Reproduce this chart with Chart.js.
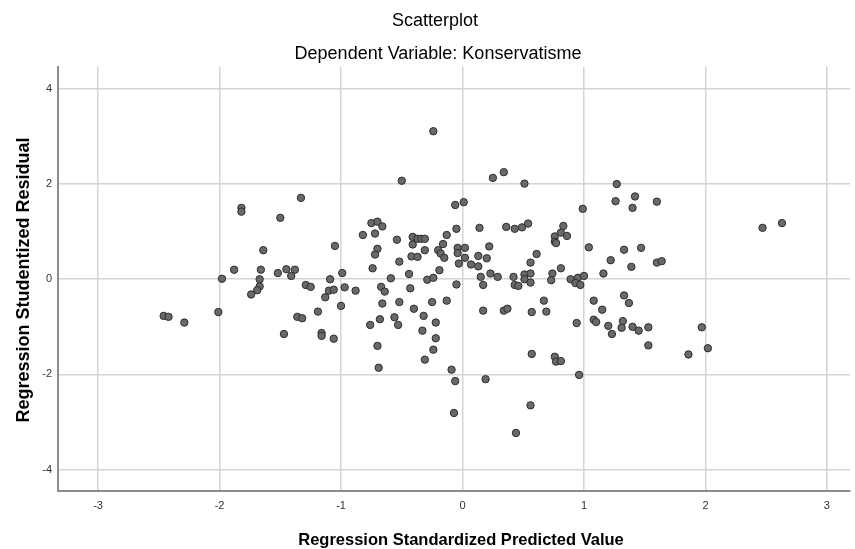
<!DOCTYPE html>
<html>
<head>
<meta charset="utf-8">
<script src="https://cdn.jsdelivr.net/npm/chart.js@4.4.0/dist/chart.umd.min.js"></script>
<style>
  html, body { margin: 0; padding: 0; background: #fff; }
  #wrap { width: 855px; height: 549px; position: relative; }
</style>
</head>
<body>
<div id="wrap"><canvas id="myChart"></canvas></div>
<script>
// Regression Standardized Predicted Value
const predicted = [
  -1.33, -1.82, -1.82, -1.50, -1.64, -1.88, -1.66, -1.52, -1.45, -1.38,
  -1.41, -1.98, -1.67, -1.67, -1.69, -1.74, -1.29, -1.25, -1.13, -1.10,
  -1.09, -2.46, -2.42, -2.29, -2.01, -1.19, -1.36, -1.32, -1.47, -1.16,
  -1.16, -1.06, -0.24, -0.50, -0.06, 0.01, -0.75, -0.70, -0.66, -0.82,
  -0.72, -1.05, -0.54, -0.41, -0.41, -0.37, -0.34, -0.31, -0.13, -0.05,
  0.14, -0.16, -0.20, -0.18, -0.15, -0.31, -0.70, -0.72, -0.04, 0.02,
  -0.04, 0.02, 0.13, -0.42, -0.37, -0.52, -0.03, 0.07, 0.13, -0.74,
  -0.99, -1.06, -0.97, -0.88, -1.00, -0.59, -0.44, -0.29, -0.24, -0.19,
  -0.05, -0.67, -0.64, -0.43, -0.66, -0.52, -0.40, -0.25, -0.13, -0.76,
  -0.68, -0.56, -0.53, -0.32, -0.22, -0.33, -0.22, -0.70, -0.24, -0.31,
  -0.69, -0.09, -0.06, -0.07, 0.25, 0.34, 0.51, 0.99, 1.27, 1.26,
  1.42, 1.40, 0.36, 0.43, 0.49, 0.54, 0.76, 0.81, 0.83, 0.86,
  0.76, 0.77, 1.04, 1.33, 1.47, 1.22, 1.39, 0.20, 0.22, 0.15,
  0.17, 0.23, 0.29, 0.42, 0.43, 0.46, 0.51, 0.56, 0.51, 0.56,
  0.56, 0.61, 0.81, 0.74, 0.73, 0.89, 0.95, 0.93, 0.97, 1.00,
  1.16, 1.33, 1.08, 0.67, 0.17, 0.34, 0.37, 0.57, 0.69, 0.94,
  1.15, 1.37, 1.08, 1.10, 1.20, 1.23, 1.32, 1.31, 1.40, 1.45,
  0.57, 0.76, 0.77, 0.81, 0.96, 0.19, 0.56, 0.44, 1.60, 1.60,
  1.64, 2.47, 2.63, 1.53, 1.53, 1.97, 2.02, 1.86
];
// Regression Studentized Residual
const residual = [
  1.71, 1.50, 1.42, 1.29, 0.61, 0.20, 0.20, 0.13, 0.21, 0.20,
  0.07, 0.01, 0.00, -0.15, -0.23, -0.32, -0.12, -0.16, -0.38, -0.24,
  0.00, -0.77, -0.79, -0.91, -0.69, -0.68, -0.79, -0.82, -1.15, -1.13,
  -1.19, -1.25, 3.11, 2.07, 1.56, 1.62, 1.18, 1.21, 1.11, 0.93,
  0.96, 0.70, 0.83, 0.89, 0.73, 0.85, 0.85, 0.85, 0.93, 1.06,
  1.08, 0.74, 0.61, 0.54, 0.45, 0.61, 0.64, 0.52, 0.66, 0.66,
  0.55, 0.45, 0.49, 0.48, 0.47, 0.37, 0.33, 0.31, 0.27, 0.23,
  0.13, -0.22, -0.17, -0.24, -0.56, 0.02, 0.11, -0.01, 0.03, 0.19,
  -0.11, -0.16, -0.26, -0.19, -0.51, -0.48, -0.62, -0.48, -0.45, -0.96,
  -0.84, -0.80, -0.96, -0.77, -0.91, -1.08, -1.24, -1.40, -1.48, -1.69,
  -1.86, -1.90, -2.14, -2.81, 2.13, 2.25, 2.01, 1.48, 2.00, 1.64,
  1.74, 1.50, 1.10, 1.06, 1.09, 1.17, 0.90, 0.98, 1.12, 0.91,
  0.79, 0.76, 0.67, 0.62, 0.66, 0.40, 0.26, 0.44, 0.69, 0.05,
  -0.12, 0.12, 0.05, 0.05, -0.12, -0.14, 0.10, 0.12, 0.00, -0.07,
  0.35, 0.53, 0.23, 0.12, -0.02, 0.00, 0.03, -0.08, -0.12, 0.07,
  0.12, -0.34, -0.45, -0.45, -0.66, -0.66, -0.62, -0.69, -0.68, -0.92,
  -0.64, -0.50, -0.85, -0.90, -0.98, -1.15, -0.88, -1.02, -1.00, -1.08,
  -1.57, -1.63, -1.73, -1.72, -2.01, -2.10, -2.65, -3.23, 1.63, 0.35,
  0.38, 1.08, 1.18, -1.01, -1.39, -1.01, -1.45, -1.58
];
const xTicks = [-3, -2, -1, 0, 1, 2, 3];
const yTicks = [-4, -2, 0, 2, 4];

const chartTitle = 'Scatterplot';
const chartSubtitle = 'Dependent Variable: Konservatisme';
const xTitle = 'Regression Standardized Predicted Value';
const yTitle = 'Regression Studentized Residual';

const points = predicted.map((v, i) => ({ x: v, y: residual[i] }));

// titles are drawn by hand so they sit where SPSS puts them
const textPlugin = {
    id: 'spssText',
    afterDraw(chart) {
        const c = chart.ctx;
        c.save();
        c.fillStyle = '#000';
        c.textAlign = 'center';
        c.textBaseline = 'alphabetic';
        c.font = '18px "Liberation Sans", Arial, sans-serif';
        c.fillText(chartTitle, 435, 26);
        c.fillText(chartSubtitle, 438, 59);
        c.font = 'bold 16.5px "Liberation Sans", Arial, sans-serif';
        c.fillText(xTitle, 461, 545);
        c.font = 'bold 18px "Liberation Sans", Arial, sans-serif';
        c.translate(29, 280);
        c.rotate(-Math.PI / 2);
        c.fillText(yTitle, 0, 0);
        c.restore();
    }
};

const ctx = document.getElementById('myChart');

new Chart(ctx, {
    type: 'scatter',
    data: {
        datasets: [{
            label: 'Residual',
            data: points,
            backgroundColor: 'rgb(105, 105, 105)',
            borderColor: 'rgb(45, 45, 45)',
            borderWidth: 1,
            pointRadius: 3.7,
            pointHoverRadius: 3.7
        }]
    },
    options: {
        responsive: true,
        maintainAspectRatio: false,
        animation: false,
        layout: {
            padding: { top: 67, right: 5, left: 0, bottom: 0 }
        },
        plugins: {
            legend: { display: false },
            tooltip: { enabled: false }
        },
        scales: {
            x: {
                type: 'linear',
                min: -3.33,
                max: 3.19,
                afterFit: (scale) => { scale.height = 58; },
                afterBuildTicks: (scale) => { scale.ticks = xTicks.map(v => ({ value: v })); },
                grid: {
                    color: 'rgb(212, 212, 212)',
                    lineWidth: 1.5,
                    drawTicks: false
                },
                border: { color: 'rgb(140, 140, 140)', width: 2 },
                ticks: {
                    padding: 8,
                    color: '#333',
                    font: { family: '"Liberation Sans", Arial, sans-serif', size: 11 }
                }
            },
            y: {
                type: 'linear',
                min: -4.45,
                max: 4.46,
                afterFit: (scale) => { scale.width = 58; },
                afterBuildTicks: (scale) => { scale.ticks = yTicks.map(v => ({ value: v })); },
                grid: {
                    color: 'rgb(212, 212, 212)',
                    lineWidth: 1.5,
                    drawTicks: false
                },
                border: { color: 'rgb(140, 140, 140)', width: 2 },
                ticks: {
                    padding: 6,
                    color: '#333',
                    font: { family: '"Liberation Sans", Arial, sans-serif', size: 11 }
                }
            }
        }
    },
    plugins: [textPlugin]
});
</script>
</body>
</html>
